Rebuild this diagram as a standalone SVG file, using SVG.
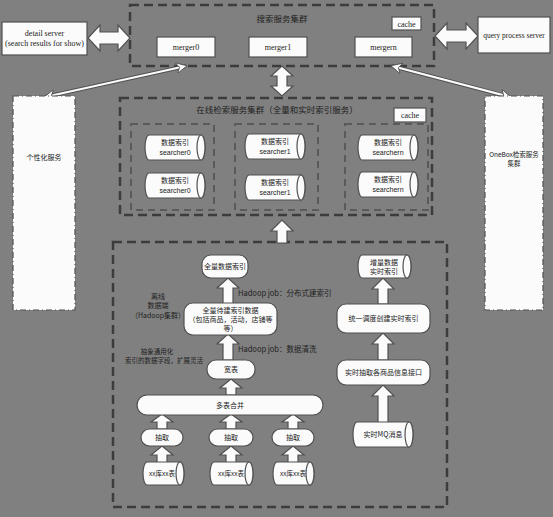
<svg xmlns="http://www.w3.org/2000/svg" width="553" height="517" viewBox="0 0 553 517">
  <style>
    .cluster { fill: none; stroke: #3c3c3c; stroke-width: 2.5; stroke-dasharray: 9 5; }
    .sub { fill: none; stroke: #5a5a5a; stroke-width: 2; stroke-dasharray: 7 5; }
    .side { fill: #fbfbfb; stroke: #505050; stroke-width: 1.2; stroke-dasharray: 6 3 1 3; }
    .box { fill: #fbfbfb; stroke: #505050; stroke-width: 1.2; }
    .rbox { fill: #fbfbfb; stroke: #505050; stroke-width: 1.2; }
    .cyl { fill: #fbfbfb; stroke: #505050; stroke-width: 1.2; }
    .barrow { fill: #fbfbfb; stroke: #505050; stroke-width: 1.2; stroke-linejoin: miter; }
    .en { font-family: "Liberation Serif", "Times New Roman", serif; font-size: 8px; fill: #222; text-anchor: middle; }
    .zh { font-family: "Noto Sans CJK SC", "Noto Sans", sans-serif; font-size: 7px; fill: #222; text-anchor: middle; }
    .sans { font-family: "Liberation Sans", "Noto Sans CJK SC", sans-serif; font-size: 7px; fill: #222; text-anchor: middle; }
    .title { font-family: "Noto Sans CJK SC", sans-serif; font-size: 8.5px; fill: #1e1e1e; text-anchor: middle; }
    .lbl { font-family: "Noto Sans CJK SC", "Liberation Sans", sans-serif; font-size: 7.5px; fill: #1e1e1e; }
  </style>
  <defs>
    <marker id="head" viewBox="0 0 10 10" refX="9" refY="5" markerWidth="5" markerHeight="5" orient="auto-start-reverse" markerUnits="strokeWidth">
      <path d="M0,0 L10,5 L0,10 L3,5 Z" fill="#fbfbfb" stroke="#505050" stroke-width="0.8"/>
    </marker>
  </defs>

  <rect width="553" height="517" fill="#808080"/>

  <!-- cluster frames -->
  <g id="search-cluster">
    <rect class="cluster" x="130" y="5" width="304" height="61"/>
    <text class="title" x="282" y="22">搜索服务集群</text>
  </g>
  <g id="online-cluster">
    <rect class="cluster" x="120" y="98" width="312" height="117"/>
    <text class="title" x="277" y="113">在线检索服务集群（全量和实时索引服务）</text>
    <rect class="sub" x="131" y="124" width="83" height="86"/>
    <rect class="sub" x="235" y="124" width="83" height="86"/>
    <rect class="sub" x="345" y="124" width="83" height="86"/>
  </g>
  <g id="offline-cluster">
    <rect class="cluster" x="113" y="242" width="334" height="265"/>
  </g>

  <!-- connectors -->
  <g id="connectors">
    <!-- detail server <-> merger cluster -->
    <path class="barrow" d="M88,38 L100,25 L100,32 L118,32 L118,25 L130,38 L118,51 L118,44 L100,44 L100,51 Z"/>
    <!-- merger cluster <-> query process server -->
    <path class="barrow" d="M435,36 L447,23 L447,30 L466,30 L466,23 L478,36 L466,49 L466,42 L447,42 L447,49 Z"/>
    <!-- merger cluster <-> searcher cluster -->
    <path class="barrow" d="M282,66 L293,76 L287,76 L287,86 L293,86 L282,96 L271,86 L277,86 L277,76 L271,76 Z"/>
    <!-- offline side -> searcher cluster -->
    <path class="barrow" d="M277,243 L277,231 L271,231 L282,220 L293,231 L287,231 L287,243 Z"/>
    <!-- diagonal links to side services -->
    <line x1="45" y1="97" x2="186" y2="66" stroke="#505050" stroke-width="4"/>
    <line x1="45" y1="97" x2="186" y2="66" stroke="#fbfbfb" stroke-width="2.2" marker-start="url(#head)" marker-end="url(#head)"/>
    <line x1="510" y1="97" x2="392" y2="66" stroke="#505050" stroke-width="4"/>
    <line x1="510" y1="97" x2="392" y2="66" stroke="#fbfbfb" stroke-width="2.2" marker-start="url(#head)" marker-end="url(#head)"/>

    <!-- full index pipeline -->
    <path class="barrow" d="M223,304 L223,288 L217,288 L228,278 L239,288 L233,288 L233,304 Z"/>
    <path class="barrow" d="M223,360 L223,344 L217,344 L228,334 L239,344 L233,344 L233,360 Z"/>
    <path class="barrow" d="M226,395 L226,388 L220,388 L231,379 L242,388 L236,388 L236,395 Z"/>
    <path class="barrow" d="M157,429 L157,422 L151,422 L162,414 L173,422 L167,422 L167,429 Z"/>
    <path class="barrow" d="M226,429 L226,422 L220,422 L231,414 L242,422 L236,422 L236,429 Z"/>
    <path class="barrow" d="M288,429 L288,422 L282,422 L293,414 L304,422 L298,422 L298,429 Z"/>
    <path class="barrow" d="M157,463 L157,455 L151,455 L162,446 L173,455 L167,455 L167,463 Z"/>
    <path class="barrow" d="M226,463 L226,455 L220,455 L231,446 L242,455 L236,455 L236,463 Z"/>
    <path class="barrow" d="M288,463 L288,455 L282,455 L293,446 L304,455 L298,455 L298,463 Z"/>

    <!-- realtime pipeline -->
    <path class="barrow" d="M378,304 L378,289 L372,289 L383,278 L394,289 L388,289 L388,304 Z"/>
    <path class="barrow" d="M378,360 L378,344 L372,344 L383,333 L394,344 L388,344 L388,360 Z"/>
    <path class="barrow" d="M378,423 L378,396 L372,396 L383,385 L394,396 L388,396 L388,423 Z"/>

    <text class="lbl" x="238" y="296">Hadoop job：分布式建索引</text>
    <text class="lbl" x="238" y="352">Hadoop job：数据清洗</text>
  </g>

  <!-- top row services -->
  <g id="detail-server">
    <rect class="box" x="2" y="22" width="85" height="33"/>
    <text class="en" x="44.5" y="36">detail server</text>
    <text class="en" x="44.5" y="46">(search results for show)</text>
  </g>
  <g id="query-process-server">
    <rect class="box" x="478" y="17" width="72" height="36"/>
    <text class="en" x="514" y="38" style="font-size:7.5px">query process server</text>
  </g>
  <g id="merger0">
    <rect class="box" x="157" y="37" width="58" height="20"/>
    <text class="en" x="186" y="50">merger0</text>
  </g>
  <g id="merger1">
    <rect class="box" x="249" y="37" width="58" height="20"/>
    <text class="en" x="278" y="50">merger1</text>
  </g>
  <g id="mergern">
    <rect class="box" x="355" y="37" width="57" height="20"/>
    <text class="en" x="383.5" y="50">mergern</text>
  </g>
  <g id="cache-top">
    <rect class="box" x="392" y="17" width="29" height="13"/>
    <text class="en" x="406.5" y="26.5">cache</text>
  </g>

  <!-- side services -->
  <g id="personal-service">
    <rect class="side" x="13" y="96" width="62" height="214"/>
    <text class="zh" x="44" y="160">个性化服务</text>
  </g>
  <g id="onebox-service">
    <rect class="side" x="485" y="96" width="58" height="214"/>
    <text class="zh" x="514" y="157" style="font-size:6.5px">OneBox检索服务</text>
    <text class="zh" x="514" y="166" style="font-size:6.5px">集群</text>
  </g>

  <!-- searchers -->
  <g id="cache-mid">
    <rect class="box" x="394" y="108" width="32" height="14"/>
    <text class="en" x="410" y="118">cache</text>
  </g>
  <g id="searcher0-a">
    <path class="cyl" d="M149,135 H201 A4,12.5 0 0 1 201,160 H149 A4,12.5 0 0 1 149,135 Z"/>
    <ellipse class="cyl" cx="201" cy="147.5" rx="4" ry="12.5"/>
    <text class="zh" x="175" y="145">数据索引</text>
    <text class="sans" x="175" y="155">searcher0</text>
  </g>
  <g id="searcher0-b">
    <path class="cyl" d="M149,173 H201 A4,12.5 0 0 1 201,198 H149 A4,12.5 0 0 1 149,173 Z"/>
    <ellipse class="cyl" cx="201" cy="185.5" rx="4" ry="12.5"/>
    <text class="zh" x="175" y="183">数据索引</text>
    <text class="sans" x="175" y="193">searcher0</text>
  </g>
  <g id="searcher1-a">
    <path class="cyl" d="M249,134 H301 A4,12.5 0 0 1 301,159 H249 A4,12.5 0 0 1 249,134 Z"/>
    <ellipse class="cyl" cx="301" cy="146.5" rx="4" ry="12.5"/>
    <text class="zh" x="275" y="144">数据索引</text>
    <text class="sans" x="275" y="154">searcher1</text>
  </g>
  <g id="searcher1-b">
    <path class="cyl" d="M249,175 H301 A4,12.5 0 0 1 301,200 H249 A4,12.5 0 0 1 249,175 Z"/>
    <ellipse class="cyl" cx="301" cy="187.5" rx="4" ry="12.5"/>
    <text class="zh" x="275" y="185">数据索引</text>
    <text class="sans" x="275" y="195">searcher1</text>
  </g>
  <g id="searchern-a">
    <path class="cyl" d="M362,135 H414 A4,12.5 0 0 1 414,160 H362 A4,12.5 0 0 1 362,135 Z"/>
    <ellipse class="cyl" cx="414" cy="147.5" rx="4" ry="12.5"/>
    <text class="zh" x="388" y="145">数据索引</text>
    <text class="sans" x="388" y="155">searchern</text>
  </g>
  <g id="searchern-b">
    <path class="cyl" d="M362,172 H414 A4,12.5 0 0 1 414,197 H362 A4,12.5 0 0 1 362,172 Z"/>
    <ellipse class="cyl" cx="414" cy="184.5" rx="4" ry="12.5"/>
    <text class="zh" x="388" y="182">数据索引</text>
    <text class="sans" x="388" y="192">searchern</text>
  </g>

  <!-- offline labels -->
  <g id="offline-label">
    <text class="zh" x="158" y="299">离线</text>
    <text class="zh" x="158" y="308">数据端</text>
    <text class="zh" x="158" y="318">（Hadoop集群）</text>
  </g>
  <g id="abstract-label">
    <text class="zh" x="157" y="354" style="font-size:6.5px">抽象通用化</text>
    <text class="zh" x="164" y="363" style="font-size:6.5px">索引的数据字段，扩展灵活</text>
  </g>

  <!-- full index pipeline nodes -->
  <g id="full-index">
    <rect class="rbox" x="202" y="255" width="46" height="23" rx="9"/>
    <text class="zh" x="225" y="269">全量数据索引</text>
  </g>
  <g id="full-data">
    <rect class="rbox" x="184" y="303" width="93" height="32" rx="9"/>
    <text class="zh" x="230.5" y="313">全量待建索引数据</text>
    <text class="zh" x="230.5" y="322">（包括商品，活动，店铺等</text>
    <text class="zh" x="230.5" y="331">等）</text>
  </g>
  <g id="wide-table">
    <rect class="rbox" x="207" y="360" width="48" height="19" rx="9"/>
    <text class="zh" x="231" y="372">宽表</text>
  </g>
  <g id="merge-tables">
    <rect class="rbox" x="137" y="395" width="186" height="20" rx="10"/>
    <text class="zh" x="230" y="407.5">多表合并</text>
  </g>
  <g id="extract-1">
    <rect class="rbox" x="141" y="429" width="42" height="17" rx="8.5"/>
    <text class="zh" x="162" y="440">抽取</text>
  </g>
  <g id="extract-2">
    <rect class="rbox" x="209" y="429" width="44" height="17" rx="8.5"/>
    <text class="zh" x="231" y="440">抽取</text>
  </g>
  <g id="extract-3">
    <rect class="rbox" x="272" y="429" width="42" height="17" rx="8.5"/>
    <text class="zh" x="293" y="440">抽取</text>
  </g>
  <g id="table-1">
    <path class="cyl" d="M147,462 H180 A4,11.5 0 0 1 180,485 H147 A4,11.5 0 0 1 147,462 Z"/>
    <ellipse class="cyl" cx="180" cy="473.5" rx="4" ry="11.5"/>
    <text class="zh" x="162" y="476" style="font-size:6.5px">xx库xx表</text>
  </g>
  <g id="table-2">
    <path class="cyl" d="M214,462 H249 A4,11.5 0 0 1 249,485 H214 A4,11.5 0 0 1 214,462 Z"/>
    <ellipse class="cyl" cx="249" cy="473.5" rx="4" ry="11.5"/>
    <text class="zh" x="231" y="476" style="font-size:6.5px">xx库xx表</text>
  </g>
  <g id="table-3">
    <path class="cyl" d="M277,462 H310 A4,11.5 0 0 1 310,485 H277 A4,11.5 0 0 1 277,462 Z"/>
    <ellipse class="cyl" cx="310" cy="473.5" rx="4" ry="11.5"/>
    <text class="zh" x="293" y="476" style="font-size:6.5px">xx库xx表</text>
  </g>

  <!-- realtime pipeline nodes -->
  <g id="incr-index">
    <path class="cyl" d="M362,255 H407 A4,11.5 0 0 1 407,278 H362 A4,11.5 0 0 1 362,255 Z"/>
    <ellipse class="cyl" cx="407" cy="266.5" rx="4" ry="11.5"/>
    <text class="zh" x="384" y="265">增量数据</text>
    <text class="zh" x="384" y="274">实时索引</text>
  </g>
  <g id="schedule">
    <rect class="rbox" x="337" y="304" width="93" height="29" rx="9"/>
    <text class="zh" x="383.5" y="321">统一调度创建实时索引</text>
  </g>
  <g id="realtime-api">
    <rect class="rbox" x="337" y="360" width="93" height="25" rx="9"/>
    <text class="zh" x="383.5" y="375">实时抽取各商品信息接口</text>
  </g>
  <g id="mq-message">
    <path class="cyl" d="M357,422 H409 A4,12.5 0 0 1 409,447 H357 A4,12.5 0 0 1 357,422 Z"/>
    <ellipse class="cyl" cx="409" cy="434.5" rx="4" ry="12.5"/>
    <text class="zh" x="383" y="437">实时MQ消息</text>
  </g>
</svg>
